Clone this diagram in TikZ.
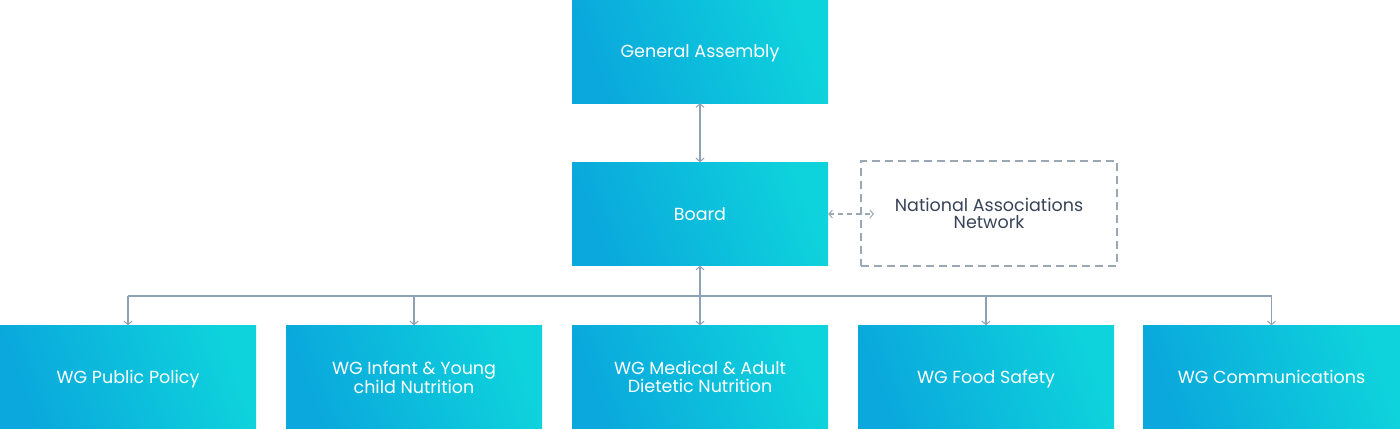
\documentclass[tikz,border=0pt]{standalone}
\usepackage{fontspec}
\setmainfont{Poppins}
\usetikzlibrary{arrows.meta}
\definecolor{boxA}{HTML}{0AA8DC}
\definecolor{boxC}{HTML}{0ED3DC}
\definecolor{lineC}{HTML}{8FA2B4}
\definecolor{dashC}{HTML}{9AA8B5}
\definecolor{txtC}{HTML}{374357}
\begin{document}
\begin{tikzpicture}[x=1bp,y=-1bp,
  bluebox/.style={rectangle, minimum width=256bp, minimum height=103bp, inner sep=0pt,
    left color=boxA, right color=boxC, shading angle=110,
    text=white, font=\fontsize{17.5bp}{17.5bp}\selectfont, align=center},
  oneline/.style={text height=12.3bp, text depth=0bp},
  dashbox/.style={rectangle, minimum width=256bp, minimum height=105bp, inner sep=0pt,
    draw=dashC, line width=1.2bp, dash pattern=on 8bp off 5bp,
    text=txtC, font=\fontsize{17.5bp}{17.5bp}\selectfont, align=center},
  conn/.style={draw=lineC, line width=1.2bp},
  tip/.style={-{Straight Barb[length=3.5bp,width=8bp,line width=1bp]}},
  tips/.style={{Straight Barb[length=3.5bp,width=8bp,line width=1bp]}-{Straight Barb[length=3.5bp,width=8bp,line width=1bp]}},
]
\useasboundingbox (0,0) rectangle (1400,429);
\node[bluebox,oneline] (ga) at (700,51.5) {General Assembly};
\node[bluebox,oneline] (bd) at (700,214) {Board};
\node[dashbox] (nan) at (989,213.5) {National Associations\\Network};
\node[bluebox,oneline] (w1) at (128,377) {WG Public Policy};
\node[bluebox] (w2) at (414,377) {WG Infant \& Young\\child Nutrition};
\node[bluebox] (w3) at (700,377) {WG Medical \& Adult\\Dietetic Nutrition};
\node[bluebox,oneline] (w4) at (986,377) {WG Food Safety};
\node[bluebox,oneline, minimum width=257bp] (w5) at (1271.5,377) {WG Communications};
\coordinate (nanin) at (874,214);
\coordinate (bus) at (700,296);
\draw[conn,tips] (ga.south) -- (bd.north);
\draw[conn,tips] (bd.south) -- (w3.north);
\draw[conn,tips,dash pattern=on 5bp off 4bp,draw=dashC] (bd.east) -- (nanin);
\draw[conn] (w1.north |- bus) -- (w5.north |- bus);
\draw[conn,tip] (w1.north |- bus) -- (w1.north);
\draw[conn,tip] (w2.north |- bus) -- (w2.north);
\draw[conn,tip] (w4.north |- bus) -- (w4.north);
\draw[conn,tip] (w5.north |- bus) -- (w5.north);
\end{tikzpicture}
\end{document}
